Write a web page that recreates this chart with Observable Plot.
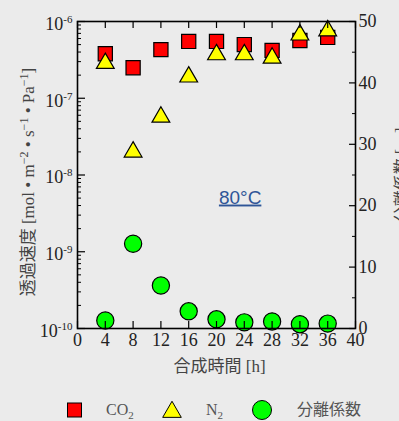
<!DOCTYPE html>
<html><head><meta charset="utf-8">
<script src="https://cdn.jsdelivr.net/npm/d3@7"></script>
<script src="https://cdn.jsdelivr.net/npm/@observablehq/plot@0.6"></script>
<style>
html,body{margin:0;padding:0;background:#ebebeb;}
#wrap{position:relative;width:399px;height:421px;overflow:hidden;font-family:"Liberation Serif","Noto Sans CJK JP",serif;}
#wrap > svg{position:absolute;left:0;top:0;}
#wrap svg text{font-family:"Liberation Serif","Noto Sans CJK JP",serif;}
#wrap svg text.sans{font-family:"Liberation Sans",sans-serif;}
.lg{position:absolute;color:#555;font-size:16px;line-height:16px;}
.lg sub{font-size:11px;vertical-align:-4px;line-height:0;}
</style></head><body><div id="wrap"></div>
<script>
// ---- data ----
const hours = [4, 8, 12, 16, 20, 24, 28, 32, 36];
const co2 = [3.8e-7, 2.5e-7, 4.3e-7, 5.5e-7, 5.5e-7, 5.0e-7, 4.2e-7, 5.65e-7, 6.2e-7];
const n2 = [2.85e-7, 2.0e-8, 5.7e-8, 1.9e-7, 3.7e-7, 3.7e-7, 3.35e-7, 6.7e-7, 7.6e-7];
const sepFactor = [1.3, 13.8, 7.0, 2.8, 1.5, 1.0, 1.15, 0.7, 0.8];
const xTicks = [0, 4, 8, 12, 16, 20, 24, 28, 32, 36, 40];
const yExponents = [-10, -9, -8, -7, -6];
const rightTicks = [0, 10, 20, 30, 40, 50];
const rightMinor = [5, 15, 25, 35, 45];
const tempNote = [{x: 23.4, y: 5.1e-9, t: "80°C"}];
const xTitle = "合成時間 [h]";
const rTitle = "分離係数 [－]";
const legendItems = ["CO<sub>2</sub>", "N<sub>2</sub>", "分離係数"];

// ---- layout ----
const W = 399, H = 385, mL = 77, mR = 44, mT = 21, mB = 57;
const fw = W - mL - mR, fh = H - mT - mB;
const FONT = "'Liberation Serif','Noto Sans CJK JP',serif";
const rows = hours.map((h, i) => ({h, co2: co2[i], n2: n2[i], sep: sepFactor[i]}));
const yMajor = yExponents.map(e => Math.pow(10, e));
const yMinor = d3.scaleLog().domain([1e-10, 1e-6]).ticks()
  .filter(v => Math.abs(Math.log10(v) - Math.round(Math.log10(v))) > 1e-6);

const common = {
  width: W, height: H, marginLeft: mL, marginRight: mR, marginTop: mT, marginBottom: mB,
  style: {background: "transparent", fontFamily: FONT, color: "#222", overflow: "visible"}
};

const pA = Plot.plot({
  ...common,
  x: {domain: [0, 40]},
  y: {type: "log", domain: [1e-10, 1e-6]},
  marks: [
    Plot.axisY({ticks: yMajor, anchor: "left", tickSize: 0, tickPadding: 5, fontSize: 18, label: null, fontFamily: FONT, dy: 2.5,
      tickFormat: d => String(Math.round(Math.log10(d)))}),
    Plot.axisX({ticks: xTicks, tickSize: 0, tickPadding: 5, fontSize: 18, label: null, fontFamily: FONT, tickFormat: d => String(d)}),
    Plot.tickY(yMajor, {y: d => d, insetRight: fw - 8, stroke: "#000", strokeWidth: 1.2}),
    Plot.tickY(yMinor, {y: d => d, insetRight: fw - 4, stroke: "#000", strokeWidth: 1}),
    Plot.dot(rows, {x: "h", y: "co2", symbol: "square", r: 8, fill: "#ff0000", stroke: "#000", strokeWidth: 1.2}),
    Plot.dot(rows, {x: "h", y: "n2", symbol: "triangle", r: 6.6, fill: "#ffff00", stroke: "#000", strokeWidth: 1.2}),
    Plot.text(tempNote, {x: "x", y: "y", text: "t", fontSize: 19, fill: "#2f5597"}),
    Plot.text([xTitle], {frameAnchor: "bottom", dy: 43, dx: 3, fontSize: 17, fill: "#444", fontFamily: FONT}),
    Plot.text(["Y"], {frameAnchor: "left", textAnchor: "middle", dx: -49, dy: 7, rotate: -90, fontSize: 17, fill: "#444", fontFamily: FONT})
  ]
});

const pB = Plot.plot({
  ...common,
  x: {domain: [0, 40], axis: null},
  y: {domain: [0, 50]},
  marks: [
    Plot.dot(rows, {x: "h", y: "sep", r: 8.6, fill: "#00ff00", stroke: "#000", strokeWidth: 1.2}),
    Plot.axisY({ticks: rightTicks, anchor: "right", tickSize: 0, tickPadding: 3, fontSize: 18, label: null, fontFamily: FONT}),
    Plot.tickY(rightTicks, {y: d => d, insetLeft: fw - 6, stroke: "#000", strokeWidth: 1.2}),
    Plot.tickY(rightMinor, {y: d => d, insetLeft: fw - 3, stroke: "#000", strokeWidth: 1}),
    Plot.tickX(xTicks, {x: d => d, insetTop: fh - 7, stroke: "#000", strokeWidth: 1.2}),
    Plot.tickX(xTicks, {x: d => d, insetBottom: fh - 7, stroke: "#000", strokeWidth: 1.2}),
    Plot.frame({stroke: "#000", strokeWidth: 1.6}),
    Plot.text([rTitle], {frameAnchor: "right", textAnchor: "middle", dx: 46, rotate: -90, fontSize: 16, fill: "#444", fontFamily: FONT})
  ]
});

const wrap = document.getElementById("wrap");
wrap.appendChild(pA);
wrap.appendChild(pB);

// superscript exponents on log tick labels
d3.select(pA).selectAll('g[aria-label="y-axis tick label"] text').each(function () {
  const e = this.textContent;
  const t = d3.select(this);
  t.text(null);
  t.append("tspan").text("10");
  t.append("tspan").attr("dy", -7).attr("font-size", 11).text(e.replace("−", "-"));
});

// rotated left title with superscripts
d3.select(pA).selectAll("text").each(function () {
  if (this.textContent !== "Y") return;
  const t = d3.select(this);
  t.text(null);
  const segs = [["透過速度 [mol • m", 0], ["−2", 1], [" • s", 0], ["−1", 1], [" • Pa", 0], ["−1", 1], ["]", 0]];
  let up = false;
  for (const [s, sup] of segs) {
    const ts = t.append("tspan").text(s);
    if (sup) { ts.attr("dy", -6).attr("font-size", 12); up = true; }
    else if (up) { ts.attr("dy", 6); up = false; }
  }
});

// underline temperature note, sans font
d3.select(pA).selectAll("text").filter(function () { return this.textContent === "80°C"; })
  .classed("sans", true).style("text-decoration", "underline");

// legend
const lg = d3.select(wrap);
const sym = lg.append("svg").attr("width", 399).attr("height", 30).style("top", "395px");
sym.append("rect").attr("x", 67.5).attr("y", 8).attr("width", 14).attr("height", 14).attr("fill", "#ff0000").attr("stroke", "#000");
sym.append("path").attr("d", d3.symbol(d3.symbolTriangle, 150)()).attr("transform", "translate(172,17)").attr("fill", "#ffff00").attr("stroke", "#000");
sym.append("circle").attr("cx", 262).attr("cy", 15).attr("r", 9.5).attr("fill", "#00ff00").attr("stroke", "#000");
const lefts = [106, 206, 297];
legendItems.forEach((s, i) => {
  lg.append("div").attr("class", "lg").style("left", lefts[i] + "px").style("top", "402px").html(s);
});
</script></body></html>
